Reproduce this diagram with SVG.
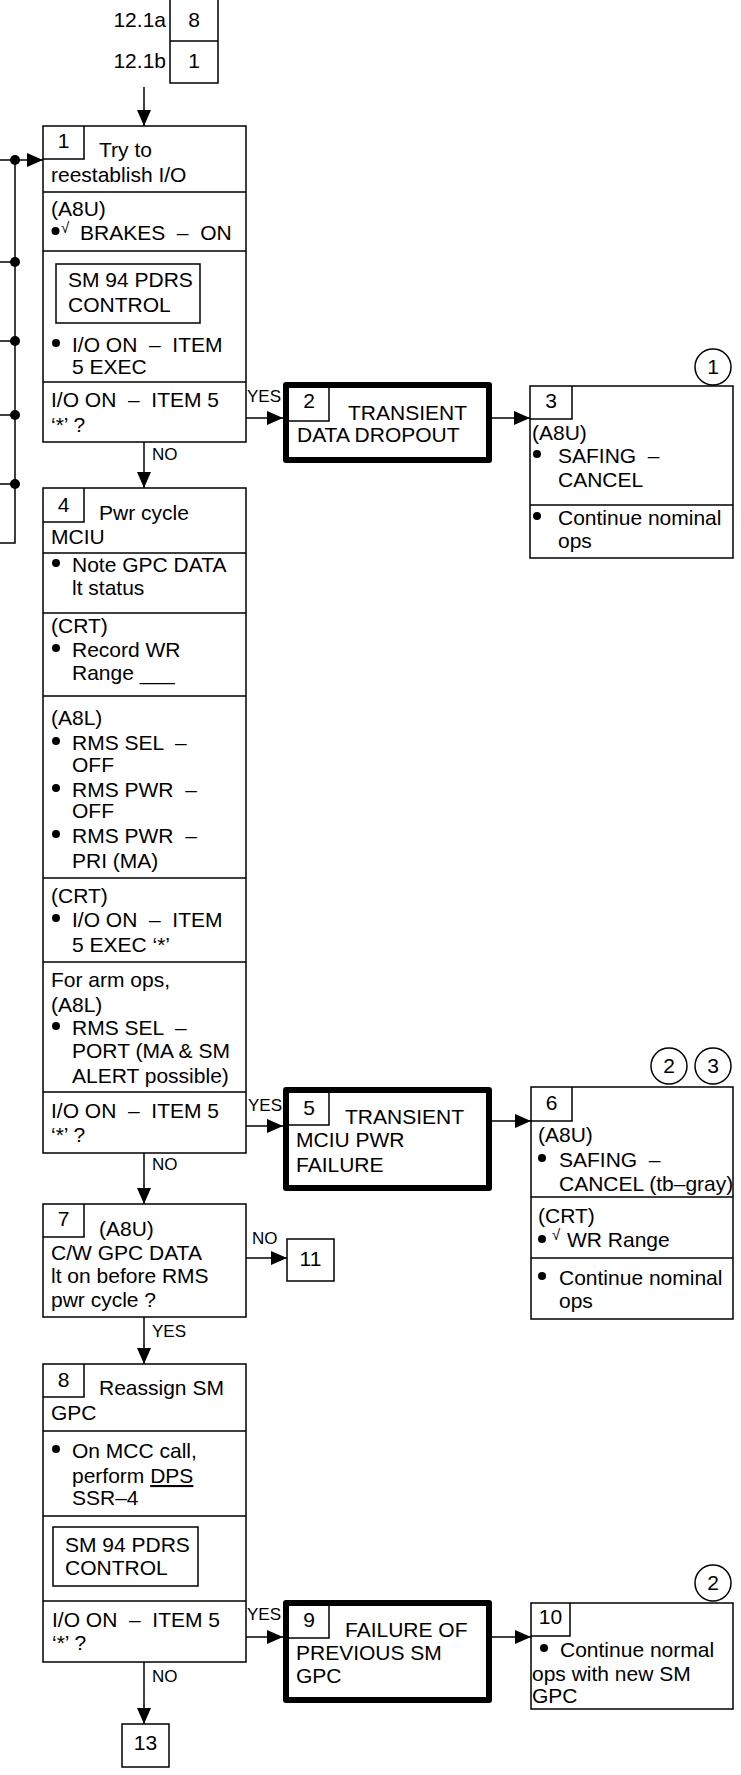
<svg xmlns="http://www.w3.org/2000/svg" width="741" height="1775" viewBox="0 0 741 1775">
<style>
text{font-family:"Liberation Sans",Arial,sans-serif;font-size:21px;fill:#000}
.m{text-anchor:middle}
.e{text-anchor:end}
.lb{font-size:17px}
.ck{font-size:15px}
.bl{fill:#000}
.b{fill:#fff;stroke:#000;stroke-width:1.5}
.t{fill:#fff;stroke:#000;stroke-width:6;stroke-linejoin:round}
.l{fill:none;stroke:#000;stroke-width:1.5}
.c{fill:none;stroke:#000;stroke-width:1.5}
</style>
<defs>
<marker id="ah" viewBox="0 0 16 14" refX="16" refY="7" markerWidth="16" markerHeight="14" markerUnits="userSpaceOnUse" orient="auto">
<path d="M0,0 L16,7 L0,14 z" fill="#000"/>
</marker>
</defs>
<rect width="741" height="1775" fill="#fff"/>

<g id="connectors">
<path class="c" d="M144,87 V126" marker-end="url(#ah)"/>
<path class="c" d="M0,160 H43" marker-end="url(#ah)"/>
<path class="c" d="M15,160 V543 H0 M0,262 H15 M0,341 H15 M0,415 H15 M0,484 H15"/>
<circle cx="15" cy="160" r="5"/>
<circle cx="15" cy="262" r="5"/>
<circle cx="15" cy="341" r="5"/>
<circle cx="15" cy="415" r="5"/>
<circle cx="15" cy="484" r="5"/>
<path class="c" d="M246,418 H283" marker-end="url(#ah)"/>
<text class="lb" x="247" y="402">YES</text>
<path class="c" d="M492,418 H530" marker-end="url(#ah)"/>
<path class="c" d="M144,442 V488" marker-end="url(#ah)"/>
<text class="lb" x="152" y="460">NO</text>
<path class="c" d="M246,1126 H283" marker-end="url(#ah)"/>
<text class="lb" x="248" y="1111">YES</text>
<path class="c" d="M492,1121 H531" marker-end="url(#ah)"/>
<path class="c" d="M144,1153 V1204" marker-end="url(#ah)"/>
<text class="lb" x="152" y="1170">NO</text>
<path class="c" d="M246,1258 H287" marker-end="url(#ah)"/>
<text class="lb" x="252" y="1244">NO</text>
<path class="c" d="M144,1317 V1364" marker-end="url(#ah)"/>
<text class="lb" x="152" y="1337">YES</text>
<path class="c" d="M246,1637 H283" marker-end="url(#ah)"/>
<text class="lb" x="247" y="1620">YES</text>
<path class="c" d="M492,1637 H531" marker-end="url(#ah)"/>
<path class="c" d="M144,1662 V1724" marker-end="url(#ah)"/>
<text class="lb" x="152" y="1682">NO</text>
</g>

<g id="entry">
<path class="l" d="M170,0 V83 H218 V0 M170,41 H218"/>
<text class="e" x="166" y="27">12.1a</text>
<text class="e" x="166" y="68">12.1b</text>
<text class="m" x="194" y="27">8</text>
<text class="m" x="194" y="68">1</text>
</g>

<g id="n1">
<rect class="b" x="43" y="126" width="203" height="316"/>
<path class="l" d="M43,159 H84 V126 M43,192 H246 M43,251 H246 M43,382 H246"/>
<text class="m" x="63.5" y="148">1</text>
<text x="99" y="157">Try to</text>
<text x="51" y="182">reestablish I/O</text>
<text x="51" y="216">(A8U)</text>
<circle class="bl" cx="55.5" cy="231" r="4"/>
<text class="ck" x="61" y="233">√</text>
<text x="80" y="240">BRAKES &#160;– &#160;ON</text>
<rect class="b" x="56" y="264" width="144" height="59"/>
<text x="68" y="287">SM 94 PDRS</text>
<text x="68" y="312">CONTROL</text>
<circle class="bl" cx="56" cy="343" r="4"/>
<text x="72" y="352">I/O ON &#160;– &#160;ITEM</text>
<text x="72" y="374">5 EXEC</text>
<text x="51" y="407">I/O ON &#160;– &#160;ITEM 5</text>
<text x="51" y="432">‘*’ ?</text>
</g>

<g id="n2">
<rect class="t" x="286" y="385" width="203" height="75"/>
<path class="l" d="M289,421 H329 V388"/>
<text class="m" x="309" y="408">2</text>
<text x="348" y="420">TRANSIENT</text>
<text x="297" y="442">DATA DROPOUT</text>
</g>

<g id="n3">
<rect class="b" x="530" y="386" width="203" height="172"/>
<path class="l" d="M530,419 H572 V386 M530,505 H733"/>
<text class="m" x="551" y="408">3</text>
<text x="532" y="440">(A8U)</text>
<circle class="bl" cx="537" cy="454" r="4"/>
<text x="558" y="463">SAFING &#160;–</text>
<text x="558" y="487">CANCEL</text>
<circle class="bl" cx="537" cy="516" r="4"/>
<text x="558" y="525">Continue nominal</text>
<text x="558" y="548">ops</text>
<circle class="l" cx="713" cy="367" r="18"/>
<text class="m" x="713" y="374">1</text>
</g>

<g id="n4">
<rect class="b" x="43" y="488" width="203" height="665"/>
<path class="l" d="M43,522 H84 V488 M43,553 H246 M43,613 H246 M43,696 H246 M43,878 H246 M43,962 H246 M43,1092 H246"/>
<text class="m" x="63.5" y="512">4</text>
<text x="99" y="520">Pwr cycle</text>
<text x="51" y="544">MCIU</text>
<circle class="bl" cx="56" cy="563" r="4"/>
<text x="72" y="572">Note GPC DATA</text>
<text x="72" y="595">lt status</text>
<text x="51" y="633">(CRT)</text>
<circle class="bl" cx="56" cy="648" r="4"/>
<text x="72" y="657">Record WR</text>
<text x="72" y="680">Range ___</text>
<text x="51" y="725">(A8L)</text>
<circle class="bl" cx="56" cy="741" r="4"/>
<text x="72" y="750">RMS SEL &#160;–</text>
<text x="72" y="772">OFF</text>
<circle class="bl" cx="56" cy="788" r="4"/>
<text x="72" y="797">RMS PWR &#160;–</text>
<text x="72" y="818">OFF</text>
<circle class="bl" cx="56" cy="834" r="4"/>
<text x="72" y="843">RMS PWR &#160;–</text>
<text x="72" y="868">PRI (MA)</text>
<text x="51" y="903">(CRT)</text>
<circle class="bl" cx="56" cy="918" r="4"/>
<text x="72" y="927">I/O ON &#160;– &#160;ITEM</text>
<text x="72" y="952">5 EXEC ‘*’</text>
<text x="51" y="987">For arm ops,</text>
<text x="51" y="1012">(A8L)</text>
<circle class="bl" cx="56" cy="1026" r="4"/>
<text x="72" y="1035">RMS SEL &#160;–</text>
<text x="72" y="1058">PORT (MA &amp; SM</text>
<text x="72" y="1083">ALERT possible)</text>
<text x="51" y="1118">I/O ON &#160;– &#160;ITEM 5</text>
<text x="51" y="1142">‘*’ ?</text>
</g>

<g id="n5">
<rect class="t" x="286" y="1090" width="203" height="98"/>
<path class="l" d="M289,1125 H329 V1093"/>
<text class="m" x="309" y="1115">5</text>
<text x="345" y="1124">TRANSIENT</text>
<text x="296" y="1147">MCIU PWR</text>
<text x="296" y="1172">FAILURE</text>
</g>

<g id="n6">
<rect class="b" x="531" y="1087" width="202" height="232"/>
<path class="l" d="M531,1121 H572 V1087 M531,1197 H733 M531,1258 H733"/>
<text class="m" x="551.5" y="1110">6</text>
<text x="538" y="1142">(A8U)</text>
<circle class="bl" cx="542" cy="1158" r="4"/>
<text x="559" y="1167">SAFING &#160;–</text>
<text x="559" y="1191">CANCEL (tb–gray)</text>
<text x="538" y="1223">(CRT)</text>
<circle class="bl" cx="542" cy="1239" r="4"/>
<text class="ck" x="552" y="1240">√</text>
<text x="567" y="1247">WR Range</text>
<circle class="bl" cx="542" cy="1276" r="4"/>
<text x="559" y="1285">Continue nominal</text>
<text x="559" y="1308">ops</text>
<circle class="l" cx="669" cy="1066" r="18"/>
<text class="m" x="669" y="1073">2</text>
<circle class="l" cx="713" cy="1066" r="18"/>
<text class="m" x="713" y="1073">3</text>
</g>

<g id="n7">
<rect class="b" x="43" y="1204" width="203" height="113"/>
<path class="l" d="M43,1237 H84 V1204"/>
<text class="m" x="63.5" y="1226">7</text>
<text x="99" y="1236">(A8U)</text>
<text x="51" y="1260">C/W GPC DATA</text>
<text x="51" y="1283">lt on before RMS</text>
<text x="51" y="1307">pwr cycle ?</text>
</g>

<g id="n11">
<rect class="b" x="287" y="1239" width="47" height="42"/>
<text class="m" x="310.5" y="1266">11</text>
</g>

<g id="n8">
<rect class="b" x="43" y="1364" width="203" height="298"/>
<path class="l" d="M43,1397 H84 V1364 M43,1431 H246 M43,1516 H246 M43,1601 H246"/>
<text class="m" x="63.5" y="1387">8</text>
<text x="99" y="1395">Reassign SM</text>
<text x="51" y="1420">GPC</text>
<circle class="bl" cx="56" cy="1449" r="4"/>
<text x="72" y="1458">On MCC call,</text>
<text x="72" y="1483">perform <tspan text-decoration="underline">DPS</tspan></text>
<text x="72" y="1505">SSR–4</text>
<rect class="b" x="53" y="1527" width="145" height="59"/>
<text x="65" y="1552">SM 94 PDRS</text>
<text x="65" y="1575">CONTROL</text>
<text x="52" y="1627">I/O ON &#160;– &#160;ITEM 5</text>
<text x="52" y="1650">‘*’ ?</text>
</g>

<g id="n9">
<rect class="t" x="286" y="1603" width="203" height="97"/>
<path class="l" d="M289,1638 H329 V1606"/>
<text class="m" x="309" y="1627">9</text>
<text x="345" y="1637">FAILURE OF</text>
<text x="296" y="1660">PREVIOUS SM</text>
<text x="296" y="1683">GPC</text>
</g>

<g id="n10">
<rect class="b" x="531" y="1603" width="202" height="106"/>
<path class="l" d="M531,1636 H570 V1603"/>
<text class="m" x="550.5" y="1624">10</text>
<circle class="bl" cx="544" cy="1648" r="4"/>
<text x="560" y="1657">Continue normal</text>
<text x="532" y="1681">ops with new SM</text>
<text x="532" y="1703">GPC</text>
<circle class="l" cx="713" cy="1583" r="18"/>
<text class="m" x="713" y="1590">2</text>
</g>

<g id="n13">
<rect class="b" x="122" y="1724" width="47" height="43"/>
<text class="m" x="145.5" y="1750">13</text>
</g>
</svg>
